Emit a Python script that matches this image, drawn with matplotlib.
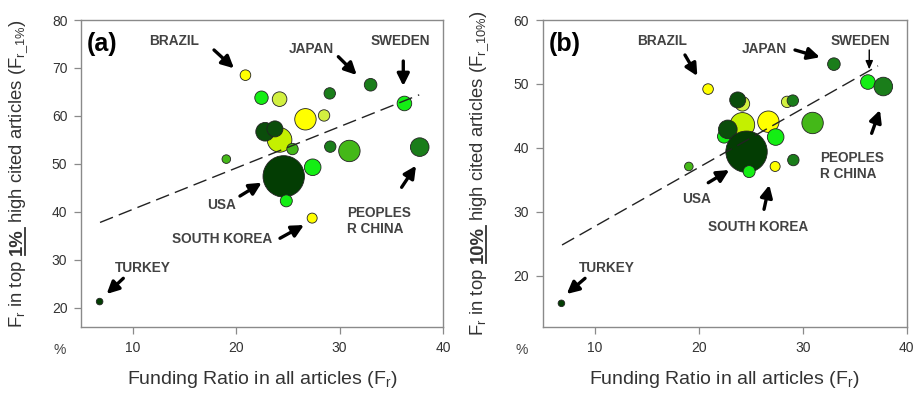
import numpy as np
import matplotlib
matplotlib.use('Agg')
import matplotlib.pyplot as plt
from matplotlib.transforms import IdentityTransform
from matplotlib.lines import Line2D

plt.rcParams['font.family'] = ['Liberation Sans', 'DejaVu Sans']
plt.rcParams['mathtext.fontset'] = 'custom'
plt.rcParams['mathtext.rm'] = 'Liberation Sans'
plt.rcParams['mathtext.it'] = 'Liberation Sans:italic'
plt.rcParams['mathtext.bf'] = 'Liberation Sans:bold'

# funding ratio in all articles (%), same countries in both panels
fr_all = [6.8, 19.05, 20.9, 22.45, 24.2, 24.2, 22.8, 23.75, 25.45, 24.6, 24.85,
          26.7, 27.4, 27.35, 28.5, 29.05, 29.1, 30.95, 33.0, 36.27, 37.75]
# funding ratio in top 1% / top 10% high cited articles (%)
fr_top1 = [21.3, 51.0, 68.5, 63.8, 63.5, 55.0, 56.7, 57.3, 53.1, 47.4, 42.3,
           59.3, 49.3, 38.7, 60.1, 64.7, 53.6, 52.7, 66.5, 62.6, 53.5]
fr_top10 = [15.7, 37.1, 49.2, 41.8, 46.9, 43.6, 42.9, 47.5, 41.0, 39.4, 36.3,
            44.1, 41.7, 37.1, 47.2, 47.4, 38.1, 43.9, 53.1, 50.3, 49.6]
# bubble size (radius in px) and colour class
bubble = [3.3, 4.3, 5.3, 6.7, 7.3, 12.3, 9.3, 8.0, 5.7, 20.7, 6.0,
          10.7, 8.3, 5.0, 5.7, 5.7, 5.7, 10.7, 6.3, 7.3, 9.3]
klass = ['vdark', 'mid', 'yellow', 'bright', 'lyg', 'yg', 'dark', 'dark', 'mid', 'vdark', 'bright',
         'yellow', 'bright', 'yellow', 'lyg', 'green', 'green', 'mid', 'green', 'bright', 'green']

# fitted trend lines (slope, intercept, x range)
trend_a = (0.862, 31.9, 6.84, 37.7)
trend_b = (0.922, 18.5, 6.86, 37.24)

palette = {'yellow': '#ffff00', 'lyg': '#d2f040', 'yg': '#c4f000', 'bright': '#14ee14',
           'mid': '#44b818', 'green': '#1a7d1a', 'dark': '#0b4d0b', 'vdark': '#033d03'}

ann_a = [
    ('BRAZIL', (14.0, 75.6), (17.86, 73.75), (19.79, 69.93), 'center'),
    ('JAPAN', (27.24, 74.0), (29.88, 72.35), (31.66, 68.53), 'center'),
    ('SWEDEN', (35.84, 75.6), (36.16, 71.45), (36.16, 66.24), 'center'),
    ('USA', (18.63, 41.33), (20.37, 43.3), (22.47, 46.08), 'center'),
    ('SOUTH KOREA', (18.63, 34.35), (24.24, 34.5), (26.56, 37.26), 'center'),
    ('PEOPLES\nR CHINA', (30.69, 38.16), (36.0, 45.12), (37.39, 49.63), 'left'),
    ('TURKEY', (11.0, 28.4), (9.09, 26.15), (7.48, 22.88), 'center'),
]
ann_b = [
    ('BRAZIL', (16.44, 56.72), (18.68, 54.53), (19.87, 51.24), 'center'),
    ('JAPAN', (26.35, 55.51), (29.26, 55.31), (31.66, 54.17), 'center'),
    ('SWEDEN', (35.56, 56.72), (36.4, 55.31), (36.4, 52.29), 'thin'),
    ('PEOPLES\nR CHINA', (31.66, 37.21), (36.63, 42.28), (37.43, 45.93), 'left'),
    ('USA', (19.81, 32.01), (20.92, 34.56), (22.94, 36.55), 'center'),
    ('SOUTH KOREA', (25.68, 27.71), (26.28, 30.4), (26.79, 34.2), 'center'),
    ('TURKEY', (11.21, 21.3), (9.07, 19.61), (7.31, 17.16), 'center'),
]

W, H = 921, 394
fig = plt.figure(figsize=(W / 100, H / 100), dpi=100)
ax_a = fig.add_axes([81 / W, 1 - 327 / H, 362 / W, 307 / H])
ax_b = fig.add_axes([542.7 / W, 1 - 327 / H, 364 / W, 307 / H])

spine_c = '#8a8a8a'
txt_c = '#333333'


def panel(ax, yvals, trend, ann, ylim, yticks, tag):
    cols = [palette[k] for k in klass]
    sizes = [(1.44 * r) ** 2 for r in bubble]
    ax.scatter(fr_all, yvals, s=sizes, c=cols, edgecolors='#222222', linewidths=0.6, zorder=3)
    k, b, x0, x1 = trend
    xs = np.array([x0, x1])
    ax.plot(xs, k * xs + b, color='#222222', lw=1.0, dashes=(10, 4.5), zorder=4)
    ax.set_xlim(5, 40)
    ax.set_ylim(*ylim)
    ax.set_xticks([10, 20, 30, 40])
    ax.set_yticks(yticks)
    for s in ax.spines.values():
        s.set_color(spine_c)
        s.set_linewidth(1.0)
    ax.tick_params(direction='out', length=4.8, width=0.9, color=spine_c,
                   labelsize=10, labelcolor=txt_c, pad=5)
    for label, tp, tail, head, mode in ann:
        ha = 'left' if mode == 'left' else 'center'
        ax.text(tp[0], tp[1], label, ha=ha, va='center', fontsize=9.8, fontweight='bold',
                color='#424242', linespacing=1.2, zorder=5)
        if mode == 'thin':
            props = dict(arrowstyle='-|>,head_length=0.5,head_width=0.22', lw=1.0,
                         color='black', shrinkA=0, shrinkB=0, mutation_scale=10)
        else:
            props = dict(arrowstyle='-|>,head_length=0.6,head_width=0.3', lw=2.4,
                         color='black', shrinkA=0, shrinkB=0, mutation_scale=12)
        ax.annotate('', xy=head, xytext=tail, arrowprops=props, zorder=5)
    ax.text(5.6, ylim[1] - (ylim[1] - ylim[0]) * 0.078, tag, ha='left', va='center',
            fontsize=18, fontweight='bold', color='black')


panel(ax_a, fr_top1, trend_a, ann_a, (16, 80), [20, 30, 40, 50, 60, 70, 80], '(a)')
panel(ax_b, fr_top10, trend_b, ann_b, (12, 60), [20, 30, 40, 50, 60], '(b)')

px = IdentityTransform()
for ax, xc, pc in [(ax_a, 262, 60), (ax_b, 724.7, 521.7)]:
    fig.text(xc, H - 380, r'Funding Ratio in all articles (F$_\mathregular{r}$)', transform=px,
             ha='center', va='center', fontsize=14, color=txt_c)
    fig.text(pc, H - 350, '%', transform=px, ha='center', va='center', fontsize=10, color='#444444')


def ylabel_parts(ax, x_px, parts):
    fig.canvas.draw()
    r = fig.canvas.get_renderer()
    texts = []
    for s, bold in parts:
        t = fig.text(0, 0, s, transform=px, rotation=90, rotation_mode='anchor',
                     ha='left', va='baseline', fontsize=13.3, color=txt_c,
                     fontweight='bold' if bold else 'normal')
        texts.append(t)
    widths = [t.get_window_extent(r).height for t in texts]
    gap = 13.3 * 100 / 72 * 0.278
    total = sum(widths) + gap * (len(texts) - 1)
    bb = ax.get_window_extent(r)
    y = (bb.y0 + bb.y1) / 2 - total / 2
    for t, w, (s, bold) in zip(texts, widths, parts):
        t.set_position((x_px, y))
        if bold:
            fig.add_artist(Line2D([x_px + 2.5, x_px + 2.5], [y, y + w], transform=px,
                                  color=txt_c, lw=1.3))
        y += w + gap


ylabel_parts(ax_a, 22, [(r'F$_\mathregular{r}$ in top', False), ('1%', True),
                        (r'high cited articles (F$_\mathregular{r\_1\%}$)', False)])
ylabel_parts(ax_b, 483, [(r'F$_\mathregular{r}$ in top', False), ('10%', True),
                         (r'high cited articles (F$_\mathregular{r\_10\%}$)', False)])

fig.savefig('out.png', dpi=100)
